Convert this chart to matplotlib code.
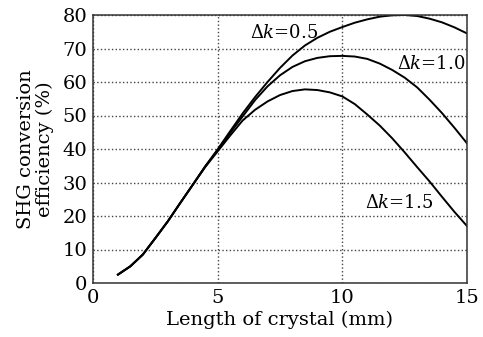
import matplotlib
matplotlib.use('Agg')
import matplotlib.pyplot as plt

# crystal length (mm) and SHG efficiency (%)
length = [1, 1.5, 2, 2.5, 3, 3.5, 4, 4.5, 5, 5.5, 6, 6.5, 7, 7.5, 8, 8.5, 9,
          9.5, 10, 10.5, 11, 11.5, 12, 12.5, 13, 13.5, 14, 14.5, 15]

eff_05 = [2.5, 5, 8.5, 13.4, 18.4, 23.9, 29.3, 34.8, 39.9, 45.3, 50.6, 55.5,
          60, 64.2, 67.9, 70.9, 73.2, 75, 76.4, 77.7, 78.7, 79.5, 79.9, 80,
          79.7, 78.9, 77.8, 76.3, 74.5]
eff_10 = [2.5, 5, 8.5, 13.4, 18.4, 23.9, 29.3, 34.8, 39.7, 44.8, 49.7, 54.6,
          58.7, 62, 64.5, 66.2, 67.2, 67.7, 67.8, 67.6, 66.9, 65.5, 63.6, 61.3,
          58.4, 54.7, 50.7, 46.3, 41.7]
eff_15 = [2.5, 5, 8.5, 13.4, 18.4, 23.9, 29.3, 34.6, 39.3, 44, 48.5, 51.7,
          54.2, 56.1, 57.3, 57.8, 57.6, 56.9, 55.7, 53.4, 50.3, 47, 43.2, 39,
          34.6, 30.3, 25.7, 21.2, 17]

labels = ['0.5', '1.0', '1.5']
label_pos = [(6.3, 74.5), (12.2, 65.5), (10.9, 24)]

plt.rcParams['font.family'] = ['DejaVu Serif']
plt.rcParams['mathtext.fontset'] = 'custom'
plt.rcParams['mathtext.rm'] = 'DejaVu Serif'
plt.rcParams['mathtext.it'] = 'DejaVu Serif:italic'

fig = plt.figure(figsize=(4.83, 3.37), dpi=100)
ax = fig.add_axes([93 / 483, 1 - 283 / 337, (467 - 93) / 483, (283 - 15) / 337])

for eff in (eff_05, eff_10, eff_15):
    ax.plot(length, eff, color='black', linewidth=1.4)

for lab, (x, y) in zip(labels, label_pos):
    ax.text(x, y, r'$\Delta k$=' + lab, fontsize=13, ha='left', va='center')

ax.set_xlim(0, 15)
ax.set_ylim(0, 80)
ax.set_xticks([0, 5, 10, 15])
ax.set_yticks(range(0, 81, 10))
ax.tick_params(length=0, labelsize=14, pad=4)
ax.grid(color='#444444', linestyle=':', linewidth=1)

for s in ax.spines.values():
    s.set_linewidth(1.1)
    s.set_color('#333333')

ax.set_xlabel('Length of crystal (mm)', fontsize=14, labelpad=3)
ax.set_ylabel('SHG conversion\nefficiency (%)', fontsize=14, labelpad=6,
              linespacing=1.05)

fig.savefig('out.png', dpi=100)
